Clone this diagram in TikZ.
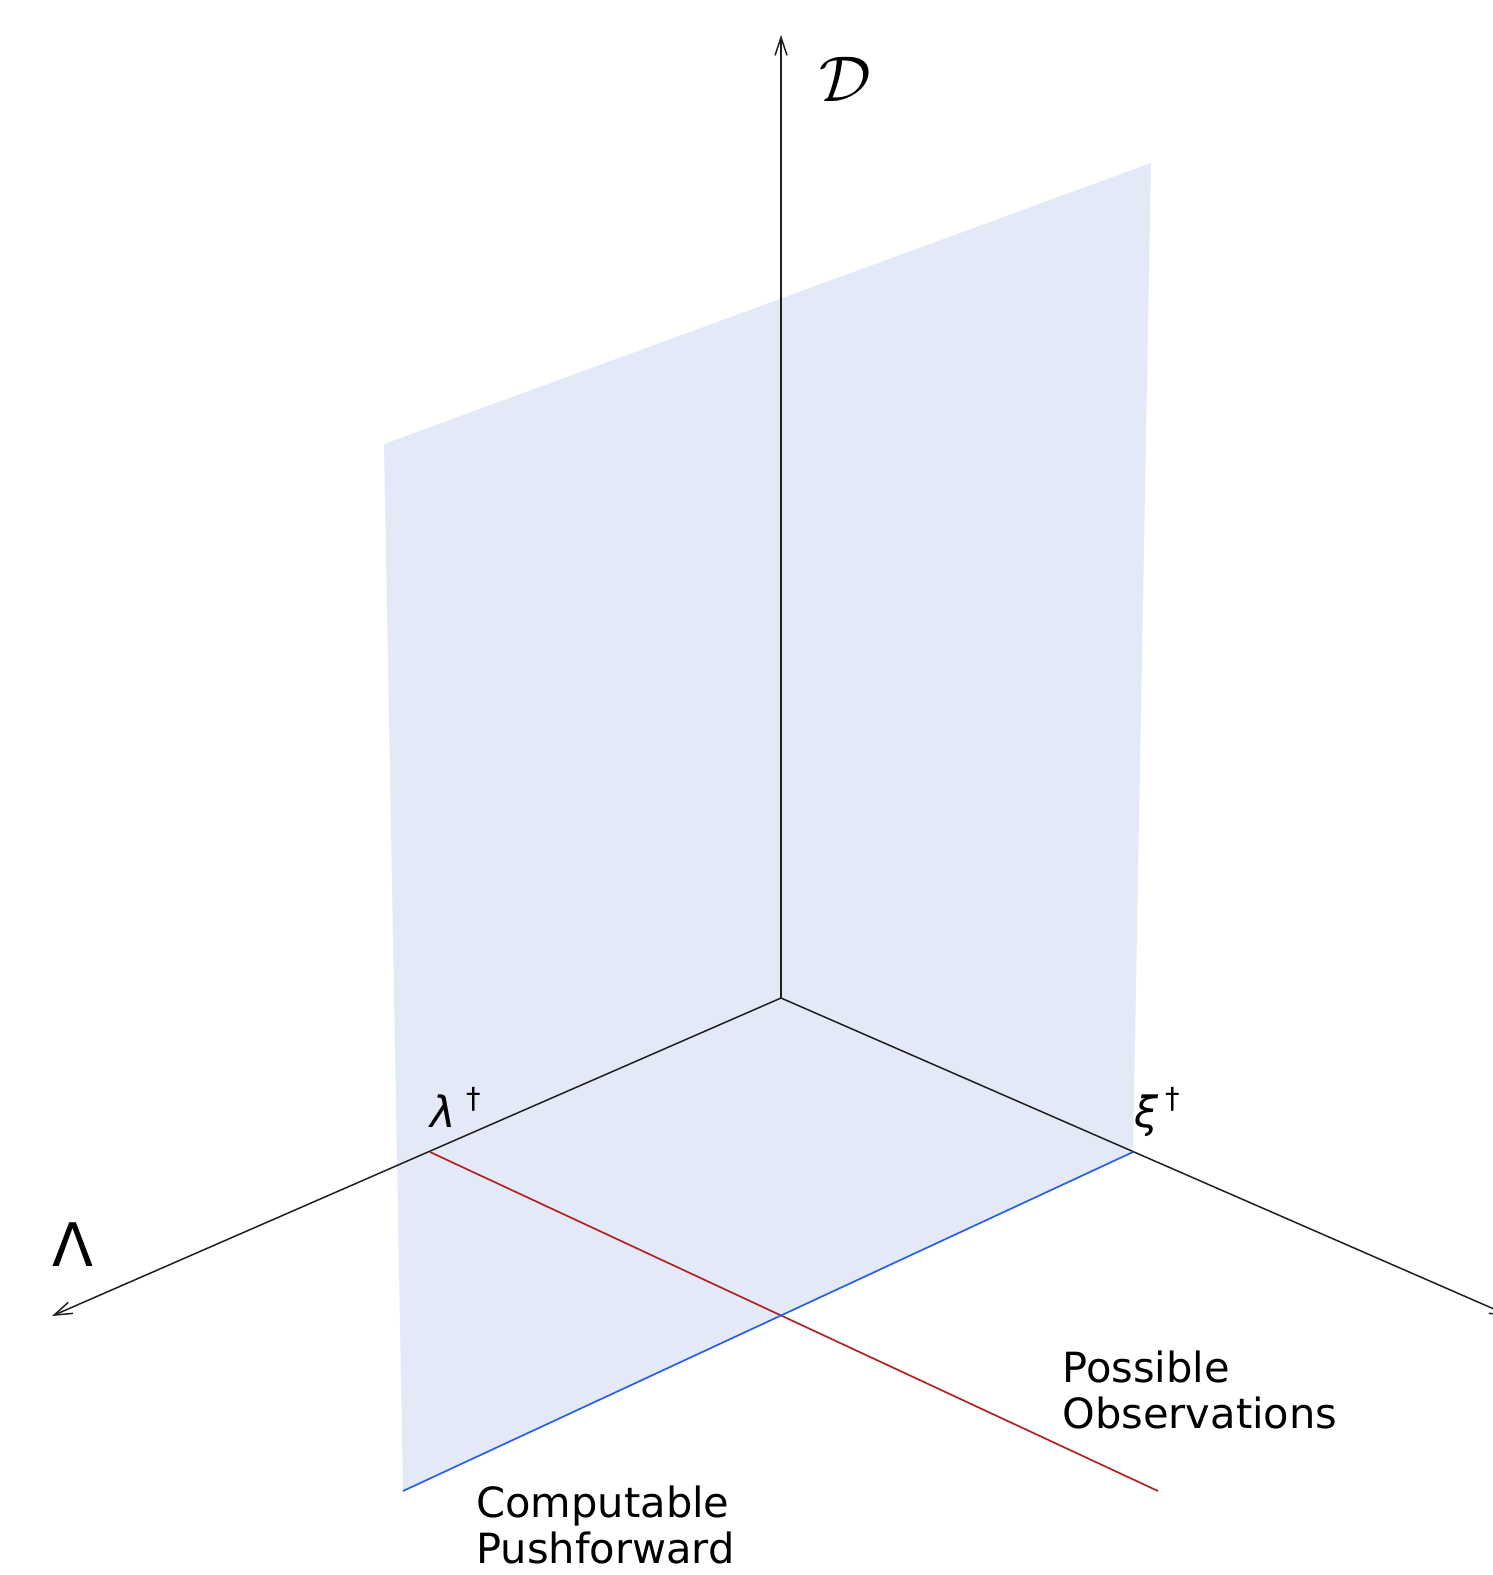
\documentclass[tikz,border=0pt]{standalone}
\usepackage{fontspec}
\setmainfont{DejaVu Sans}
\usetikzlibrary{arrows.meta}

\begin{document}
\begin{tikzpicture}[x=0.5pt, y=-0.5pt,
  axis/.style={black!88, line width=0.75pt, -{Straight Barb[length=9pt, width=6pt]}},
  plane/.style={fill={rgb,255:red,228;green,233;blue,248}},
  observed/.style={draw={rgb,255:red,178;green,34;blue,34}, line width=0.85pt},
  computed/.style={draw={rgb,255:red,40;green,95;blue,230}, line width=0.85pt},
  caption/.style={font=\fontsize{20.8}{23}\selectfont, align=left, inner sep=0pt},
  truth/.style={anchor=base west, inner sep=0pt, font=\fontsize{21.5}{23}\selectfont}]
\useasboundingbox (0,0) rectangle (1493,1575);
% points
\coordinate (origin) at (781,998);
\coordinate (dtop) at (781,35);
\coordinate (lamend) at (52,1316);
\coordinate (xiend) at (1510,1316);
\coordinate (lamdag) at (430,1152);
\coordinate (xidag) at (1133,1152);
\coordinate (redend) at (1158,1491);
\coordinate (blueend) at (403,1491);
% plane
\fill[plane] (384,444) -- (1151,163) -- (xidag) -- (blueend) -- cycle;
% axes
\draw[axis] (origin) -- (dtop);
\draw[axis] (origin) -- (lamend);
\draw[axis] (origin) -- (xiend);
% lines through the true values
\draw[observed] (lamdag) -- (redend);
\draw[computed] (xidag) -- (blueend);
% labels
\node[scale=1.3] (dlabel) at (845,79) {\fontsize{24}{26}\selectfont$\mathcal{D}$};
\node (lamlabel) at (73,1245) {\fontsize{30}{32}\selectfont Λ};
\node[truth] (lamdaglabel) at (430,1127)
  {\textit{λ}\hspace{0.24em}\raisebox{0.42em}{\fontsize{14.5}{16}\selectfont †}};
\node[truth] (xidaglabel) at (1134,1127)
  {\textit{ξ}\hspace{0.17em}\raisebox{0.42em}{\fontsize{14.5}{16}\selectfont †}};
\node[caption, anchor=north west] (obslabel) at (1062,1350) {Possible\\Observations};
\node[caption, anchor=north west] (pushlabel) at (476,1485) {Computable\\Pushforward};
\end{tikzpicture}
\end{document}
